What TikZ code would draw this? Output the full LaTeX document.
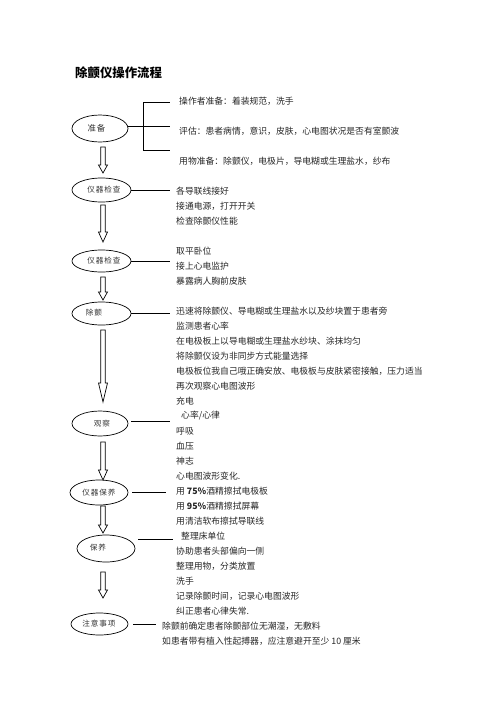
\documentclass[tikz,border=0pt]{standalone}
\usepackage{fontspec}
\newfontfamily\cjk{Noto Sans CJK SC}
\usetikzlibrary{shapes.geometric,calc}

\tikzset{
  stepnode/.style={draw, ellipse, line width=0.7pt, minimum width=58pt, minimum height=25pt, inner sep=0pt},
  steptext/.style={inner sep=0pt, font=\cjk\fontsize{7.6}{9}\selectfont\addfontfeature{LetterSpace=12}, text=black!80},
  itemtext/.style={anchor=west, inner sep=0pt, font=\cjk\fontsize{8.8}{10}\selectfont, text=black!85},
  flowline/.style={line width=0.7pt},
}

% hollow block arrow between two coordinates, #3 = head length
\newcommand{\flowarrow}[3]{%
  \draw[flowline, fill=white] ($(#1)+(-2.2,0)$) -- ($(#1)+(2.2,0)$) -- ($(#2)+(2.2,-#3)$) -- ($(#2)+(4.5,-#3)$)
    -- (#2) -- ($(#2)+(-4.5,-#3)$) -- ($(#2)+(-2.2,-#3)$) -- cycle;}

\begin{document}
\begin{tikzpicture}[x=1pt, y=-1pt]
            \useasboundingbox (0,0) rectangle (496,702);

            \node[anchor=west, inner sep=0pt, font=\cjk\bfseries\fontsize{12.4}{14}\selectfont] (title) at (75,73) {除颤仪操作流程};

            % left column
            \node[stepnode, minimum width=56pt, minimum height=27pt] (zb) at (100,128.5) {};
            \node[steptext, font=\cjk\fontsize{8.4}{9}\selectfont\addfontfeature{LetterSpace=12}] at (96.5,128) {准备};
            \node[stepnode, minimum width=59pt, minimum height=24pt] (yq1) at (101.5,190) {};
            \node[steptext] at (104,190) {仪器检查};
            \node[stepnode, minimum width=59pt, minimum height=22pt] (yq2) at (101.5,261) {};
            \node[steptext] at (104,261) {仪器检查};
            \node[stepnode, minimum width=59pt, minimum height=23pt] (cc) at (101.5,313.5) {};
            \node[steptext] at (94,313) {除颤};
            \node[stepnode, minimum width=56pt, minimum height=25pt] (gc) at (100,423.5) {};
            \node[steptext] at (102,424) {观察};
            \node[stepnode, minimum width=58pt, minimum height=25pt] (bs) at (99,492.5) {};
            \node[steptext] at (99,493) {仪器保养};
            \node[stepnode, minimum width=58pt, minimum height=27pt] (by) at (106,548.5) {};
            \node[steptext] at (98,548) {保养};
            \node[stepnode, minimum width=57pt, minimum height=22pt] (zy) at (99.5,624) {};
            \node[steptext] at (99,624) {注意事项};

            \coordinate (a1s) at (103,147);
            \coordinate (a1e) at (103,173);
            \coordinate (a2s) at (103,205);
            \coordinate (a2e) at (103,242);
            \coordinate (a3s) at (103,277);
            \coordinate (a3e) at (103,300);
            \coordinate (a4s) at (103,330);
            \coordinate (a4e) at (103,402);
            \coordinate (a5s) at (103,442);
            \coordinate (a5e) at (103,480);
            \coordinate (a6s) at (103,506);
            \coordinate (a6e) at (103,533);
            \coordinate (a7s) at (103,572);
            \coordinate (a7e) at (103,598);

            \flowarrow{a1s}{a1e}{8}
            \flowarrow{a2s}{a2e}{10}
            \flowarrow{a3s}{a3e}{8}
            \flowarrow{a4s}{a4e}{19}
            \flowarrow{a5s}{a5e}{10}
            \flowarrow{a6s}{a6e}{8}
            \flowarrow{a7s}{a7e}{8}

            % preparation
            \node[itemtext] (z1) at (179,101) {操作者准备：着装规范，洗手};
            \node[itemtext] (z2) at (179,131) {评估：患者病情，意识，皮肤，心电图状况是否有室颤波};
            \node[itemtext] (z3) at (179,161) {用物准备：除颤仪，电极片，导电糊或生理盐水，纱布};

            \coordinate (brm) at (143,126);
            \coordinate (brt) at (143,102);
            \coordinate (brb) at (143,150);
            \draw[flowline] (brm -| zb.east) -- (brm);
            \draw[flowline] (brt) -- (brb);
            \draw[flowline] (brt) -- ++(27,0);
            \draw[flowline] (brm) -- ++(27,0);
            \draw[flowline] (brb) -- ++(27,0);

            % device check
            \node[itemtext] (y1) at (176,191) {各导联线接好};
            \node[itemtext] (y2) at (176,206) {接通电源，打开开关};
            \node[itemtext] (y3) at (176,221) {检查除颤仪性能};
            \draw[flowline, shorten >=6pt] (yq1.east) -- (yq1.east -| y1.west);

            \node[itemtext] (p1) at (176,251) {取平卧位};
            \node[itemtext] (p2) at (176,266) {接上心电监护};
            \node[itemtext] (p3) at (176,281) {暴露病人胸前皮肤};
            \draw[flowline, shorten >=6pt] (yq2.east) -- (yq2.east -| p2.west);

            % defibrillation
            \node[itemtext] (c1) at (176,311) {迅速将除颤仪、导电糊或生理盐水以及纱块置于患者旁};
            \node[itemtext] (c2) at (176,326) {监测患者心率};
            \node[itemtext] (c3) at (176,341) {在电极板上以导电糊或生理盐水纱块、涂抹均匀};
            \node[itemtext] (c4) at (176,356) {将除颤仪设为非同步方式能量选择};
            \node[itemtext] (c5) at (176,371) {电极板位我自己哦正确安放、电极板与皮肤紧密接触，压力适当};
            \node[itemtext] (c6) at (176,386) {再次观察心电图波形};
            \node[itemtext] (c7) at (176,401) {充电};
            \draw[flowline, shorten >=6pt] (cc.east) -- (cc.east -| c1.west);

            % observation
            \node[itemtext] (g1) at (181,416) {心率/心律};
            \node[itemtext] (g2) at (176,431) {呼吸};
            \node[itemtext] (g3) at (176,446) {血压};
            \node[itemtext] (g4) at (176,461) {神志};
            \node[itemtext] (g5) at (176,476) {心电图波形变化.};
            \coordinate (gcl) at (131,421);
            \draw[flowline, shorten >=11pt] (gcl) -- (gcl -| g1.west);

            % device care
            \node[itemtext] (s1) at (176,491) {用 {\bfseries 75\%}酒精擦拭电极板};
            \node[itemtext] (s2) at (176,506) {用 {\bfseries 95\%}酒精擦拭屏幕};
            \node[itemtext] (s3) at (176,521) {用清洁软布擦拭导联线};
            \draw[flowline, shorten <=4pt, shorten >=10pt] (bs.east) -- (bs.east -| s1.west);

            % aftercare
            \node[itemtext] (b1) at (181,536) {整理床单位};
            \node[itemtext] (b2) at (176,551) {协助患者头部偏向一侧};
            \node[itemtext] (b3) at (176,566) {整理用物，分类放置};
            \node[itemtext] (b4) at (176,581) {洗手};
            \node[itemtext] (b5) at (176,596) {记录除颤时间，记录心电图波形};
            \node[itemtext] (b6) at (176,611) {纠正患者心律失常.};
            \coordinate (byl) at (138,539);
            \draw[flowline, shorten >=8pt] (byl) -- (byl -| b1.west);

            % notes
            \node[itemtext] (n1) at (162,626) {除颤前确定患者除颤部位无潮湿，无敷料};
            \node[itemtext] (n2) at (162,641) {如患者带有植入性起搏器，应注意避开至少 10 厘米};
            \draw[flowline, shorten <=5pt, shorten >=6pt] (zy.east) -- (zy.east -| n1.west);
\end{tikzpicture}
\end{document}
